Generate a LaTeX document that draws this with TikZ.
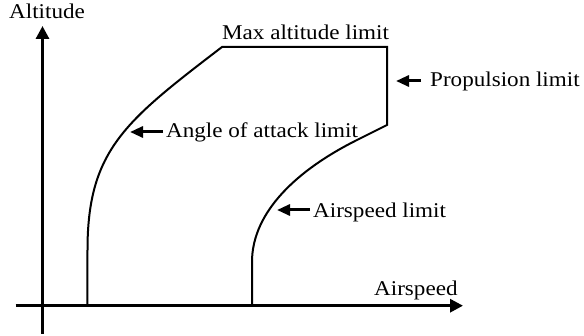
\documentclass[tikz,border=0pt]{standalone}
\usepackage{fontspec}
\setmainfont{Liberation Serif}[FakeStretch=1.1]
\usetikzlibrary{arrows.meta}
\begin{document}
\begin{tikzpicture}[x=1pt,y=-1pt,
  lab/.style={anchor=base west,inner sep=0pt,font=\fontsize{21}{25}\selectfont},
  axisline/.style={line width=3pt,-{Triangle[length=13pt,width=13pt]}},
  env/.style={line width=2pt,line join=miter},
  labarrow/.style={line width=3pt,-{Triangle[length=13pt,width=11pt]}}]
\useasboundingbox (0,0) rectangle (584,336);

% axes
\coordinate (ybot) at (42.5,334);
\coordinate (ytop) at (42.5,26);
\coordinate (xleft) at (15.5,305.7);
\coordinate (xright) at (463,305.7);
\draw[axisline] (ybot) -- (ytop);
\draw[axisline] (xleft) -- (xright);

% envelope corners
\coordinate (l0) at (87.3,305.7);
\coordinate (l1) at (87.5,250);
\coordinate (tl) at (222,47);
\coordinate (tr) at (387,47);
\coordinate (pr) at (387,125);
\coordinate (r1) at (357,140);
\coordinate (r2) at (252,262);
\coordinate (r0) at (252,305.7);

\draw[env] (l0) -- (l1) .. controls (87.5,150) and (125.4,121) .. (tl)
  -- (tr) -- (pr) -- (r1) .. controls (297,170) and (252,212) .. (r2) -- (r0);

% labels
\node[lab] (alt) at (9,19) {Altitude};
\node[lab] (maxalt) at (222,39.3) {Max altitude limit};
\node[lab] (prop) at (430,87) {Propulsion limit};
\node[lab] (aoa) at (166,138) {Angle of attack limit};
\node[lab] (asl) at (313,218) {Airspeed limit};
\node[lab] (asp) at (374,296) {Airspeed};

% label arrows
\coordinate (proptip) at (396,81);
\coordinate (aoatip) at (130,132);
\coordinate (asltip) at (277,210);
\draw[labarrow] ([xshift=-9pt]prop.west |- proptip) -- (proptip);
\draw[labarrow] ([xshift=-3pt]aoa.west |- aoatip) -- (aoatip);
\draw[labarrow] ([xshift=-3pt]asl.west |- asltip) -- (asltip);
\end{tikzpicture}
\end{document}
